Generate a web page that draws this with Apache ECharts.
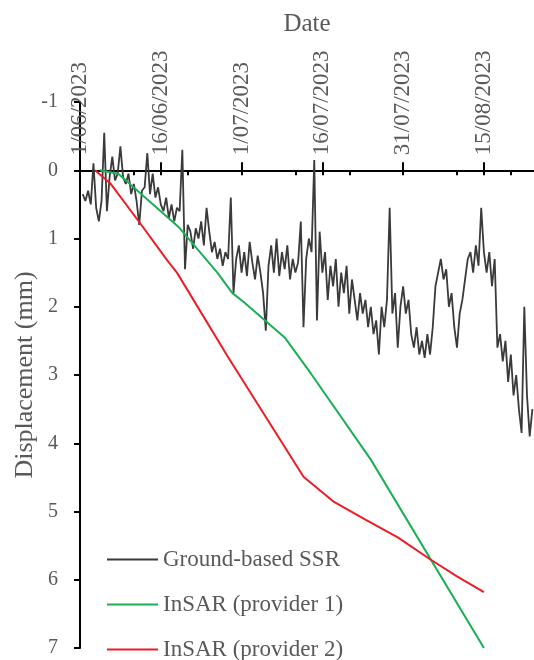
<!DOCTYPE html>
<html>
<head>
<meta charset="utf-8">
<script src="https://cdn.jsdelivr.net/npm/echarts@6/dist/echarts.min.js"></script>
<style>
  html, body { margin: 0; padding: 0; background: #fff; }
  #chart { width: 534px; height: 660px; }
</style>
</head>
<body>
<div id="chart"></div>
<script>
// x values are days since 1/06/2023
const TICK_DAYS = [0, 15, 30, 45, 60, 75];
const TICK_LABELS = ['1/06/2023', '16/06/2023', '1/07/2023', '16/07/2023', '31/07/2023', '15/08/2023'];
const SMALL_TICK_DAYS = [0, 10, 15, 20, 30, 40, 45, 50, 60, 70, 75, 80];

// ground-based SSR, sampled every half day from day 0.5
const SSR_START = 0.5;
const SSR_STEP = 0.5;
const SSR_VALUES = [
  0.35, 0.45, 0.3, 0.5, -0.1, 0.55, 0.75, 0.45, -0.55, 0.6,
  0.1, -0.2, 0.15, 0.05, -0.35, 0.1, 0.2, 0.05, 0.35, 0.2,
  0.45, 0.8, 0.3, 0.25, -0.25, 0.35, 0.05, 0.4, 0.25, 0.5,
  0.6, 0.4, 0.7, 0.5, 0.75, 0.55, 0.6, -0.3, 1.45, 0.8,
  0.9, 1.15, 0.85, 1.0, 0.75, 1.1, 0.55, 0.9, 1.2, 1.05,
  1.3, 1.15, 1.4, 1.2, 1.3, 0.4, 1.8, 1.3, 1.1, 1.5,
  1.2, 1.55, 1.05, 1.35, 1.6, 1.25, 1.5, 1.8, 2.35, 1.4,
  1.1, 1.5, 1.0, 1.55, 1.2, 1.45, 1.1, 1.6, 1.3, 1.5,
  1.35, 0.75, 2.3, 1.3, 1.0, 1.2, -0.15, 2.2, 0.9, 1.5,
  1.2, 1.9, 1.4, 1.7, 1.3, 2.0, 1.5, 1.8, 1.4, 2.1,
  1.6, 1.9, 2.2, 1.8, 2.1, 1.9, 2.3, 2.0, 2.4, 2.2,
  2.7, 2.0, 2.3, 1.9, 0.55, 2.1, 1.8, 2.6, 2.0, 1.7,
  2.1, 1.9, 2.4, 2.6, 2.3, 2.7, 2.5, 2.75, 2.4, 2.7,
  2.3, 1.7, 1.5, 1.3, 1.6, 1.45, 2.0, 1.8, 2.3, 2.6,
  2.1, 1.9, 1.6, 1.3, 1.2, 1.5, 1.1, 1.4, 0.55, 1.2,
  1.5, 1.2, 1.7, 1.3, 2.6, 2.4, 2.8, 2.5, 3.1, 2.7,
  3.3, 3.0, 3.5, 3.85, 2.0, 3.3, 3.9, 3.5
];

const P1_DAYS = [3.7, 7.1, 18.3, 25.5, 28.3, 30.4, 38.0, 42.8, 54.0, 75.0];
const P1_VALUES = [0, 0.05, 0.83, 1.5, 1.8, 1.93, 2.45, 2.97, 4.24, 7.0];

const P2_DAYS = [2.8, 5.6, 11.2, 16.2, 18.0, 27.6, 41.5, 47.0, 53.0, 59.0, 65.0, 70.0, 75.0];
const P2_VALUES = [0, 0.19, 0.78, 1.32, 1.5, 2.75, 4.49, 4.85, 5.12, 5.38, 5.7, 5.95, 6.18];

const FONT = 'Liberation Serif, Times New Roman, serif';
const TEXT = '#595959';

const ssrData = SSR_VALUES.map((v, i) => [SSR_START + i * SSR_STEP, v]);
const p1Data = P1_DAYS.map((d, i) => [d, P1_VALUES[i]]);
const p2Data = P2_DAYS.map((d, i) => [d, P2_VALUES[i]]);

// grid runs from -1 (top) to 7 (bottom); the date axis sits on 0
const GRID_TOP = 102;
const GRID_H = 546;
const ZERO_FROM_TOP = GRID_H / 8;

const chart = echarts.init(document.getElementById('chart'), null, { renderer: 'canvas' });

const xBase = {
  type: 'value',
  min: 0,
  max: 84.3,
  splitLine: { show: false },
};

chart.setOption({
  backgroundColor: '#fff',
  animation: false,
  grid: { left: 80, right: 0, top: GRID_TOP, height: GRID_H, containLabel: false, outerBoundsMode: 'none' },
  legend: {
    orient: 'vertical',
    left: 102,
    top: 543,
    height: 160,
    icon: 'rect',
    itemWidth: 51,
    itemHeight: 2,
    itemGap: 22,
    textStyle: { fontFamily: FONT, fontSize: 23, color: TEXT },
    data: ['Ground-based SSR', 'InSAR (provider 1)', 'InSAR (provider 2)'],
  },
  xAxis: [
    {
      ...xBase,
      position: 'top',
      offset: -ZERO_FROM_TOP,
      name: 'Date',
      nameLocation: 'middle',
      nameGap: 133,
      nameMoveOverlap: false,
      nameTextStyle: { fontFamily: FONT, fontSize: 25, color: TEXT },
      axisLine: { onZero: false, lineStyle: { color: '#000', width: 2 } },
      axisTick: { show: true, length: 8, customValues: TICK_DAYS, lineStyle: { color: '#000', width: 2 } },
      axisLabel: {
        customValues: TICK_DAYS,
        rotate: -90,
        margin: 15,
        fontFamily: FONT,
        fontSize: 23,
        color: TEXT,
        formatter: (v) => {
          const i = TICK_DAYS.indexOf(Math.round(v));
          return i >= 0 ? TICK_LABELS[i] : '';
        },
      },
    },
    {
      ...xBase,
      position: 'bottom',
      offset: -(GRID_H - ZERO_FROM_TOP),
      axisLine: { show: false, onZero: false },
      axisTick: { show: true, length: 5, customValues: SMALL_TICK_DAYS, lineStyle: { color: '#000', width: 2 } },
      axisLabel: { show: false },
    },
  ],
  yAxis: {
    type: 'value',
    inverse: true,
    min: -1,
    max: 7,
    interval: 1,
    splitLine: { show: false },
    name: 'Displacement (mm)',
    nameLocation: 'middle',
    nameGap: 42,
    nameMoveOverlap: false,
    nameTextStyle: { fontFamily: FONT, fontSize: 26, color: TEXT },
    axisLine: { show: true, onZero: false, lineStyle: { color: '#000', width: 2 } },
    axisTick: { show: true, length: 6, lineStyle: { color: '#000', width: 2 } },
    axisLabel: { margin: 22, fontFamily: FONT, fontSize: 20, color: TEXT },
  },
  series: [
    {
      name: 'Ground-based SSR',
      type: 'line',
      data: ssrData,
      symbol: 'none',
      color: '#3a3a3a',
      lineStyle: { width: 1.8, color: '#3a3a3a' },
    },
    {
      name: 'InSAR (provider 1)',
      type: 'line',
      data: p1Data,
      symbol: 'none',
      color: '#1aaf54',
      lineStyle: { width: 2, color: '#1aaf54' },
    },
    {
      name: 'InSAR (provider 2)',
      type: 'line',
      data: p2Data,
      symbol: 'none',
      color: '#ee1c25',
      lineStyle: { width: 2, color: '#ee1c25' },
    },
  ],
});
</script>
</body>
</html>
